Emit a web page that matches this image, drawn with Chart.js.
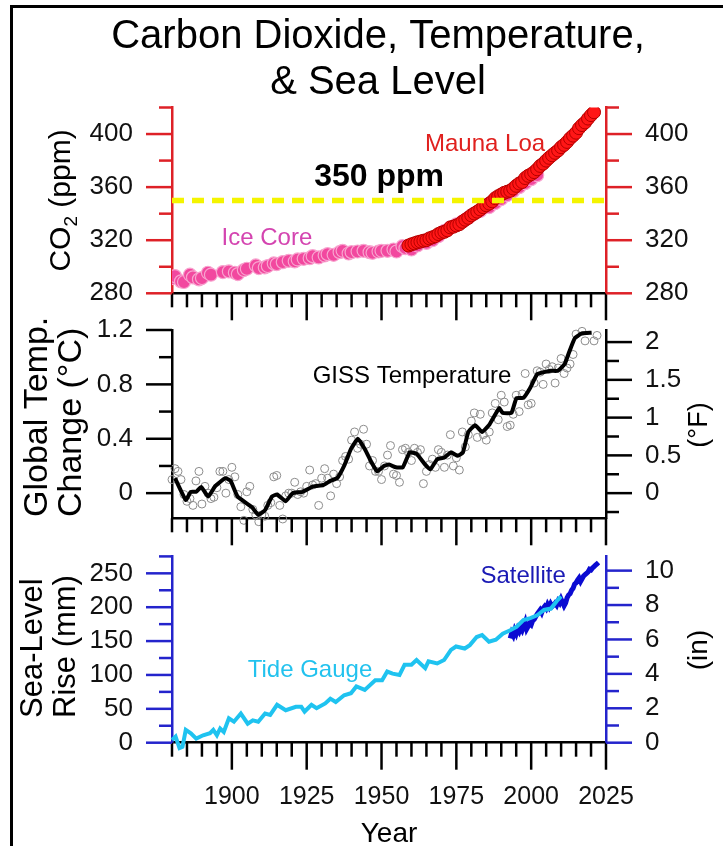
<!DOCTYPE html>
<html><head><meta charset="utf-8">
<script src="https://cdn.jsdelivr.net/npm/chart.js@4.4.1/dist/chart.umd.min.js"></script>
<style>
html,body{margin:0;padding:0;background:#fff;width:723px;height:846px;overflow:hidden;position:relative;}
canvas{position:absolute;left:0;}
#frame{position:absolute;left:10px;top:5px;width:800px;height:900px;border-left:3px solid #000;border-top:3px solid #000;}
</style></head><body>
<div id="frame"></div>
<canvas id="cCO2" width="723" height="330" style="top:0px"></canvas>
<canvas id="cTemp" width="723" height="252" style="top:296px"></canvas>
<canvas id="cSea" width="723" height="330" style="top:540px"></canvas>
<script>
// ---------------- DATA ----------------
const iceYears = [1880,1881,1883,1884,1886,1887,1889,1890,1892,1893,1897,1899,1901,1902,1904,1905,1908,1909,1911,1912,1914,1915,1917,1919,1921,1922,1924,1926,1927,1929,1931,1932,1934,1936,1937,1939,1940,1942,1944,1946,1947,1949,1950,1952,1954,1955,1957,1958,1960,1962,1965,1967,1969,1971,1973,1975,1977,1979,1981,1983,1986,1988,1990,1992,1994,1996,1998,2000,2002];
const iceCO2 = [291.5,293,289,288.5,294,292,290.5,291.5,295.5,294,296,296.5,295.5,294.5,297.5,298.5,301,299,299.5,300.5,302.5,302,303.5,304.5,304,305.5,306,306.5,308,307,308.5,309.5,309,311,312,310,311,311.5,312,311,310.5,311.5,312,312,313,311.5,315.5,314,313,316,318,320,323,327,329.5,332,334,337,340,342,345,348,351,354,357,360,363,366,369];

const mlYears = [1959,1960,1961,1962,1963,1964,1965,1966,1967,1968,1969,1970,1971,1972,1973,1974,1975,1976,1977,1978,1979,1980,1981,1982,1983,1984,1985,1986,1987,1988,1989,1990,1991,1992,1993,1994,1995,1996,1997,1998,1999,2000,2001,2002,2003,2004,2005,2006,2007,2008,2009,2010,2011,2012,2013,2014,2015,2016,2017,2018,2019,2020,2021];
const mlCO2 = [315.98,316.91,317.64,318.45,318.99,319.62,320.04,321.37,322.18,323.05,324.62,325.68,326.32,327.46,329.68,330.19,331.13,332.03,333.84,335.41,336.84,338.76,340.12,341.48,343.15,344.87,346.35,347.61,349.31,351.69,353.20,354.45,355.70,356.54,357.21,358.96,360.97,362.74,363.88,366.84,368.54,369.71,371.32,373.45,375.98,377.70,379.98,382.09,384.02,385.83,387.64,390.10,391.85,394.06,396.74,398.81,401.01,404.41,406.76,408.72,411.66,414.24,416.45];

const thresholdYears = [1880, 2025];
const thresholdPPM = [350, 350];

const tempYears = [
1880,1881,1882,1883,1884,1885,1886,1887,1888,1889,
1890,1891,1892,1893,1894,1895,1896,1897,1898,1899,
1900,1901,1902,1903,1904,1905,1906,1907,1908,1909,
1910,1911,1912,1913,1914,1915,1916,1917,1918,1919,
1920,1921,1922,1923,1924,1925,1926,1927,1928,1929,
1930,1931,1932,1933,1934,1935,1936,1937,1938,1939,
1940,1941,1942,1943,1944,1945,1946,1947,1948,1949,
1950,1951,1952,1953,1954,1955,1956,1957,1958,1959,
1960,1961,1962,1963,1964,1965,1966,1967,1968,1969,
1970,1971,1972,1973,1974,1975,1976,1977,1978,1979,
1980,1981,1982,1983,1984,1985,1986,1987,1988,1989,
1990,1991,1992,1993,1994,1995,1996,1997,1998,1999,
2000,2001,2002,2003,2004,2005,2006,2007,2008,2009,
2010,2011,2012,2013,2014,2015,2016,2017,2018,2019,
2020,2021,2022];
const tempAnom = [
0.10,0.18,0.16,0.10,-0.01,-0.06,-0.04,-0.09,0.09,0.16,
-0.08,0.05,0.00,-0.04,-0.03,0.04,0.16,0.16,0.00,0.10,
0.19,0.12,-0.01,-0.10,-0.20,0.01,0.05,-0.12,-0.16,-0.21,
-0.16,-0.17,-0.09,-0.07,0.12,0.13,-0.09,-0.19,-0.02,0.00,
0.00,0.08,-0.01,0.01,0.00,0.05,0.17,0.06,0.07,-0.09,
0.11,0.18,0.11,-0.02,0.14,0.07,0.12,0.24,0.27,0.25,
0.39,0.45,0.33,0.36,0.47,0.36,0.20,0.24,0.16,0.16,
0.10,0.20,0.28,0.35,0.14,0.13,0.08,0.32,0.33,0.30,
0.24,0.33,0.30,0.32,0.07,0.16,0.21,0.25,0.19,0.32,
0.30,0.19,0.28,0.43,0.20,0.26,0.17,0.45,0.34,0.43,
0.53,0.59,0.41,0.58,0.43,0.39,0.45,0.59,0.66,0.54,
0.72,0.67,0.49,0.50,0.58,0.72,0.60,0.73,0.88,0.65,
0.66,0.81,0.90,0.89,0.80,0.95,0.91,0.93,0.81,0.92,
0.99,0.88,0.92,0.95,1.02,1.17,1.28,1.19,1.12,1.25,
1.28,1.12,1.16];

const smoothYears = [1881,1884.6,1886.3,1888.1,1889.8,1892.1,1894.4,1897.8,1899.6,1901.9,1905.9,1907,1908.8,1911.1,1913.4,1915.1,1918,1920.3,1923.7,1927.2,1930.6,1932.9,1935.2,1937.5,1939.8,1942.1,1944.4,1946.7,1948.5,1950.8,1952.5,1954.8,1957.1,1959.4,1961.7,1964.6,1966.3,1968.6,1970.9,1973.2,1975.5,1977.2,1979,1981.3,1983.6,1985.9,1989.3,1990.5,1993.4,1995.1,1997.4,1999.7,2002,2004.3,2006.6,2008.9,2011.2,2012.9,2014.6,2016.9,2020.2];
const smoothTemp = [0.11,-0.05,0.01,0.01,0.045,-0.025,0.05,0.11,0.09,-0.025,-0.09,-0.11,-0.16,-0.125,-0.025,-0.01,-0.06,0.0,0.01,0.05,0.06,0.09,0.11,0.20,0.325,0.40,0.325,0.225,0.16,0.20,0.21,0.19,0.19,0.30,0.29,0.21,0.175,0.25,0.26,0.30,0.275,0.30,0.45,0.50,0.45,0.50,0.625,0.59,0.59,0.70,0.70,0.775,0.875,0.89,0.90,0.90,0.95,1.05,1.14,1.175,1.18];

const tideYears = [1880,1881.2,1882.5,1883.5,1884.6,1886.3,1888.1,1890.4,1892.7,1893.8,1895,1896.1,1897.3,1899,1900.7,1903,1905.3,1907,1908.8,1911.1,1912.8,1915.1,1918,1921.4,1923.2,1924.3,1926.6,1928.3,1931.2,1932.9,1934.7,1937.5,1939.8,1941.6,1944.4,1947.9,1950.2,1951.9,1953.7,1956,1957.7,1960,1961.7,1964.6,1965.7,1968.6,1970.9,1973.2,1974.9,1977.8,1979.5,1981.8,1983.6,1985.9,1988.2,1990.5,1993,1995.1,1997.4,1999.7,2002,2004.3,2006.6,2008.9,2010];
const tideMM = [4,9,-8,-6,19,14,6,11,14,19,11,21,16,36,31,43,28,33,31,43,41,56,48,53,53,46,56,51,58,65,60,70,73,83,78,92,92,105,102,100,115,115,122,110,120,117,122,137,142,139,144,156,159,149,152,161,166,171,181,184,188,196,198,211,216];

const satYears = [1993.0,1993.5,1994.0,1994.5,1995.0,1995.5,1996.0,1996.5,1997.0,1997.5,1998.0,1998.5,1999.0,1999.5,2000.0,2000.5,2001.0,2001.5,2002.0,2002.5,2003.0,2003.5,2004.0,2004.5,2005.0,2005.5,2006.0,2006.5,2007.0,2007.5,2008.0,2008.5,2009.0,2009.5,2010.0,2010.5,2011.0,2011.5,2012.0,2012.5,2013.0,2013.5,2014.0,2014.5,2015.0,2015.5,2016.0,2016.5,2017.0,2017.5,2018.0,2018.5,2019.0,2019.5,2020.0,2020.5,2021.0,2021.5,2022.0,2022.5];
const satMM = [154,162,158,166,161,168,164,170,166,172,178,168,172,176,174,180,182,186,190,193,196,192,198,201,198,204,200,205,201,203,206,203,209,206,212,207,202,206,214,218,220,225,228,234,236,240,243,238,242,246,248,250,252,256,255,258,260,262,264,266];

// tick labels / positions
const xMajorTicks = [1900,1925,1950,1975,2000,2025];
const xMinorTicks = [1880,1885,1890,1895,1905,1910,1915,1920,1930,1935,1940,1945,1955,1960,1965,1970,1980,1985,1990,1995,2005,2010,2015,2020];
const co2MajorTicks = [280,320,360,400];
const co2MinorTicks = [300,340,380,420];
const tempCMajorTicks = [0,0.4,0.8,1.2];
const tempCMinorTicks = [0.2,0.6,1.0];
const tempFMajorTicks = [0,0.5,1,1.5,2];
const tempFMinorTicks = [-0.25,0.25,0.75,1.25,1.75];
const seaMMMajorTicks = [0,50,100,150,200,250];
const seaMMMinorTicks = [25,75,125,175,225,275];
const seaInMajorTicks = [0,2,4,6,8,10];
const seaInMinorTicks = [1,3,5,7,9];

// ---------------- HELPERS ----------------
const FONT = "'Liberation Sans', Arial, Helvetica, sans-serif";
const RED = '#de2127';
const BLUE = '#2424cc';
const zip = (xs, ys) => xs.map((x, i) => ({x: x, y: ys[i]}));

function ticksPlugin(specs) {
  return {
    id: 'axisTicks',
    afterDraw(chart) {
      const ctx = chart.ctx, ca = chart.chartArea;
      ctx.save();
      ctx.lineCap = 'butt';
      specs.forEach(sp => {
        const sc = chart.scales[sp.scale];
        ctx.strokeStyle = sp.color; ctx.lineWidth = sp.width;
        const draw = (vals, len) => vals.forEach(v => {
          const p = sc.getPixelForValue(v);
          ctx.beginPath();
          if (sp.side === 'bottom') { ctx.moveTo(p, ca.bottom); ctx.lineTo(p, ca.bottom + len); }
          else if (sp.side === 'left') { ctx.moveTo(ca.left, p); ctx.lineTo(ca.left - len, p); }
          else { ctx.moveTo(ca.right, p); ctx.lineTo(ca.right + len, p); }
          ctx.stroke();
        });
        draw(sp.major, sp.majorLen);
        draw(sp.minor, sp.minorLen);
      });
      ctx.restore();
    }
  };
}

function textPlugin(items, offsetY) {
  return {
    id: 'textLayer',
    afterDraw(chart) {
      const ctx = chart.ctx;
      items.forEach(it => {
        let x, y;
        if (it.data) {
          x = chart.scales[it.xs].getPixelForValue(it.data[0]);
          y = chart.scales[it.ys].getPixelForValue(it.data[1]);
        } else { x = it.px[0]; y = it.px[1] - offsetY; }
        ctx.save();
        ctx.translate(x, y);
        if (it.rotate) ctx.rotate(-Math.PI / 2);
        ctx.fillStyle = it.color || '#000';
        ctx.textBaseline = it.baseline || 'middle';
        ctx.textAlign = 'left';
        const parts = it.parts || [{t: it.text, size: it.size, bold: it.bold}];
        let total = 0;
        parts.forEach(p => {
          ctx.font = (p.bold ? 'bold ' : '') + p.size + 'px ' + FONT;
          p.w = ctx.measureText(p.t).width; total += p.w;
        });
        let cx = it.align === 'left' ? 0 : -total / 2;
        parts.forEach(p => {
          ctx.font = (p.bold ? 'bold ' : '') + p.size + 'px ' + FONT;
          ctx.fillText(p.t, cx, p.dy || 0);
          cx += p.w;
        });
        ctx.restore();
      });
    }
  };
}

function yAxis(pos, min, max, major, color, width) {
  return {
    type: 'linear', position: pos, min: min, max: max,
    afterBuildTicks: s => { s.ticks = major.map(v => ({value: v})); },
    ticks: {callback: v => String(v), font: {family: FONT, size: 26}, color: '#111', padding: 0, autoSkip: false},
    grid: {display: true, drawOnChartArea: false, drawTicks: true, tickLength: 39, tickColor: 'rgba(0,0,0,0)'},
    border: {display: true, color: color, width: 2.5},
    afterFit: s => { s.width = width; }
  };
}
function xAxis(height, showLabels) {
  return {
    type: 'linear', position: 'bottom', min: 1880, max: 2025,
    afterBuildTicks: s => { s.ticks = xMajorTicks.map(v => ({value: v})); },
    ticks: {display: showLabels, callback: v => String(v), font: {family: FONT, size: 25}, color: '#111', padding: 0, maxRotation: 0, autoSkip: false},
    grid: {display: true, drawOnChartArea: false, drawTicks: true, tickLength: 39, tickColor: 'rgba(0,0,0,0)'},
    border: {display: true, color: '#000', width: 2.5},
    afterFit: s => { s.height = height; }
  };
}
const baseOptions = (padTop) => ({
  responsive: false, animation: false, devicePixelRatio: 1,
  layout: {padding: {top: padTop, left: 0, right: 0, bottom: 0}, autoPadding: false},
  plugins: {legend: {display: false}, tooltip: {enabled: false}}
});
const xTickSpec = {scale: 'x', side: 'bottom', major: xMajorTicks, minor: xMinorTicks, majorLen: 27, minorLen: 14, color: '#000', width: 2.5};

// ---------------- CHART 1: CO2 ----------------
(function () {
  const opt = baseOptions(107.5);
  opt.scales = {
    x: xAxis(330 - 293.3, false),
    y: yAxis('left', 280, 420, co2MajorTicks, RED, 172),
    y2: yAxis('right', 280, 420, co2MajorTicks, RED, 117)
  };
  new Chart(document.getElementById('cCO2'), {
    type: 'scatter',
    data: {datasets: [
      {label: '350 ppm', data: zip(thresholdYears, thresholdPPM), showLine: true, borderColor: '#f4f400', borderWidth: 5.5, borderDash: [12, 8], pointRadius: 0, clip: false, yAxisID: 'y'},
      {label: 'Mauna Loa', data: zip(mlYears, mlCO2), pointRadius: 6.5, backgroundColor: '#ff1616', borderColor: '#b50000', borderWidth: 1, yAxisID: 'y'},
      {label: 'Ice Core', data: zip(iceYears, iceCO2), pointRadius: 6.5, backgroundColor: '#f2489f', borderColor: '#f8a4cf', borderWidth: 1.2, yAxisID: 'y'}
    ]},
    options: opt,
    plugins: [
      ticksPlugin([xTickSpec,
        {scale: 'y', side: 'left', major: co2MajorTicks, minor: co2MinorTicks, majorLen: 26, minorLen: 13, color: RED, width: 2.5},
        {scale: 'y2', side: 'right', major: co2MajorTicks, minor: co2MinorTicks, majorLen: 26, minorLen: 13, color: RED, width: 2.5}]),
      textPlugin([
        {text: 'Carbon Dioxide, Temperature,', size: 40, px: [378, 48], baseline: 'alphabetic'},
        {text: '& Sea Level', size: 40, px: [378, 94], baseline: 'alphabetic'},
        {rotate: true, px: [70, 200.5], baseline: 'alphabetic', parts: [{t: 'CO', size: 30}, {t: '2', size: 19, dy: 7}, {t: ' (ppm)', size: 30}]},
        {text: '350 ppm', size: 32, bold: true, data: [1949.2, 367.6], xs: 'x', ys: 'y'},
        {text: 'Mauna Loa', size: 24, color: '#e0201e', data: [1984.6, 392], xs: 'x', ys: 'y'},
        {text: 'Ice Core', size: 24, color: '#d444b0', data: [1911.7, 321.4], xs: 'x', ys: 'y'}
      ], 0)
    ]
  });
})();

// ---------------- CHART 2: Temperature ----------------
(function () {
  const top = 296;
  const opt = baseOptions(330 - top);
  opt.scales = {
    x: xAxis(252 - (518.3 - top), false),
    y: yAxis('left', -0.185, 1.2, tempCMajorTicks, '#000', 172),
    yF: yAxis('right', -0.333, 2.16, tempFMajorTicks, '#000', 117)
  };
  new Chart(document.getElementById('cTemp'), {
    type: 'scatter',
    data: {datasets: [
      {label: 'GISS smoothed', data: zip(smoothYears, smoothTemp), showLine: true, borderColor: '#000', borderWidth: 4, tension: 0.12, pointRadius: 0, yAxisID: 'y'},
      {label: 'GISS annual', data: zip(tempYears, tempAnom), pointRadius: 4, backgroundColor: 'rgba(255,255,255,0)', borderColor: '#8c8c8c', borderWidth: 1, clip: false, yAxisID: 'y'}
    ]},
    options: opt,
    plugins: [
      ticksPlugin([xTickSpec,
        {scale: 'y', side: 'left', major: tempCMajorTicks, minor: tempCMinorTicks, majorLen: 26, minorLen: 13, color: '#000', width: 2.5},
        {scale: 'yF', side: 'right', major: tempFMajorTicks, minor: tempFMinorTicks, majorLen: 26, minorLen: 13, color: '#000', width: 2.5}]),
      textPlugin([
        {rotate: true, align: 'left', text: 'Global Temp.', size: 34, px: [47, 517], baseline: 'alphabetic'},
        {rotate: true, align: 'left', text: 'Change (\u00B0C)', size: 34, px: [81, 517], baseline: 'alphabetic'},
        {rotate: true, text: '(\u00B0F)', size: 27, px: [707, 425], baseline: 'alphabetic'},
        {text: 'GISS Temperature', size: 24, data: [1960.2, 0.862], xs: 'x', ys: 'y'}
      ], top)
    ]
  });
})();

// ---------------- CHART 3: Sea level ----------------
(function () {
  const top = 540;
  const opt = baseOptions(556.4 - top);
  opt.scales = {
    x: xAxis(330 - (742.7 - top), true),
    y: yAxis('left', 0, 275, seaMMMajorTicks, BLUE, 172),
    yIn: yAxis('right', 0, 275 / 25.4, seaInMajorTicks, BLUE, 117)
  };
  new Chart(document.getElementById('cSea'), {
    type: 'scatter',
    data: {datasets: [
      {label: 'Tide Gauge', data: zip(tideYears, tideMM), showLine: true, borderColor: '#1fc3f0', borderWidth: 4, pointRadius: 0, clip: false, yAxisID: 'y'},
      {label: 'Satellite', data: zip(satYears, satMM), showLine: true, borderColor: '#0b0bd2', borderWidth: 5, pointRadius: 0, yAxisID: 'y'}
    ]},
    options: opt,
    plugins: [
      ticksPlugin([xTickSpec,
        {scale: 'y', side: 'left', major: seaMMMajorTicks, minor: seaMMMinorTicks, majorLen: 26, minorLen: 13, color: BLUE, width: 2.5},
        {scale: 'yIn', side: 'right', major: seaInMajorTicks, minor: seaInMinorTicks, majorLen: 26, minorLen: 13, color: BLUE, width: 2.5}]),
      textPlugin([
        {rotate: true, align: 'left', text: 'Sea-Level', size: 31, px: [42, 718], baseline: 'alphabetic'},
        {rotate: true, align: 'left', text: 'Rise (mm)', size: 31, px: [75, 718], baseline: 'alphabetic'},
        {rotate: true, text: '(in)', size: 28, px: [707, 650], baseline: 'alphabetic'},
        {text: 'Year', size: 28, px: [389, 834]},
        {text: 'Satellite', size: 24, color: '#1a1ab4', data: [1997.3, 245], xs: 'x', ys: 'y'},
        {text: 'Tide Gauge', size: 24, color: '#22c2ee', data: [1926.1, 107.3], xs: 'x', ys: 'y'}
      ], top)
    ]
  });
})();
</script>
</body></html>
